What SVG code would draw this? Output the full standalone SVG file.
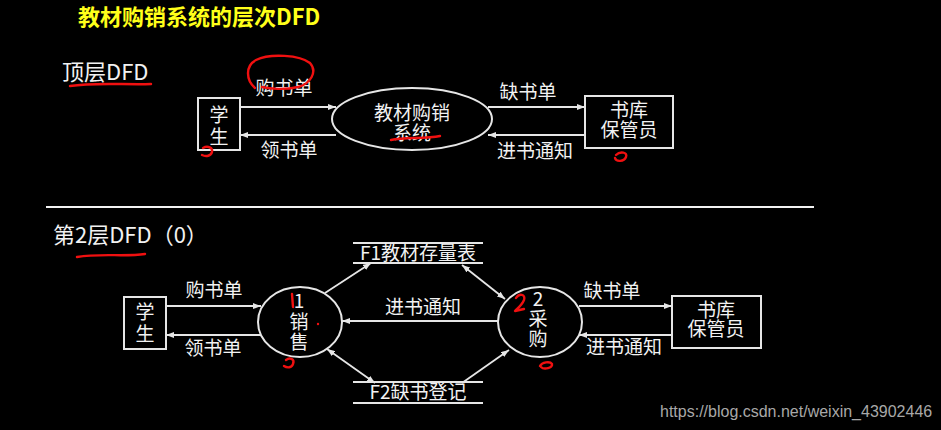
<svg xmlns="http://www.w3.org/2000/svg" width="941" height="430" viewBox="0 0 941 430">
<style>
.t{font-family:"Noto Sans CJK SC","Noto Sans",sans-serif;fill:#f2f2f2;font-size:19px;text-anchor:middle}
.h{font-family:"Noto Sans CJK SC","Noto Sans",sans-serif;fill:#f2f2f2;font-size:22px}
.s{fill:none;stroke:#e6e6e6;stroke-width:2}
.c{fill:none;stroke:#e6e6e6;stroke-width:1.8}
.r{fill:none;stroke:#f01010;stroke-width:2.4;stroke-linecap:round;stroke-linejoin:round}
</style>
<defs>
<marker id="a" viewBox="0 0 8 6" refX="8" refY="3" markerWidth="8" markerHeight="6" markerUnits="userSpaceOnUse" orient="auto-start-reverse">
<path d="M0,0 L8,3 L0,6 z" fill="#e6e6e6"/>
</marker>
</defs>
<rect width="941" height="430" fill="#000"/>
<text x="78" y="25" style="font-family:'Noto Sans CJK SC','Noto Sans',sans-serif;font-size:22px;font-weight:bold;fill:#ffff1a">教材购销系统的层次DFD</text>
<text class="h" x="62" y="80">顶层DFD</text>
<line x1="46" y1="207" x2="814" y2="207" stroke="#f2f2f2" stroke-width="2"/>
<text class="h" x="53" y="243">第2层DFD（0）</text>

<g id="top-student"><rect class="s" x="198" y="98" width="42" height="52"/><text class="t" x="219" y="122">学</text><text class="t" x="219" y="144">生</text></g>
<g id="top-system"><ellipse class="s" cx="412" cy="119" rx="80" ry="31"/><text class="t" x="412" y="120">教材购销</text><text class="t" x="412" y="140">系统</text></g>
<g id="top-keeper"><rect class="s" x="585" y="96" width="88" height="52"/><text class="t" x="629" y="117">书库</text><text class="t" x="629" y="137">保管员</text></g>

<g id="bot-student"><rect class="s" x="124" y="297" width="42" height="52"/><text class="t" x="145" y="319">学</text><text class="t" x="145" y="341">生</text></g>
<g id="p1"><ellipse class="s" cx="300" cy="322" rx="42" ry="35"/><text class="t" x="299" y="308">1</text><text class="t" x="299" y="329">销</text><text class="t" x="299" y="349">售</text></g>
<g id="p2"><ellipse class="s" cx="540" cy="322" rx="42" ry="35"/><text class="t" x="538" y="306">2</text><text class="t" x="538" y="326">采</text><text class="t" x="538" y="346">购</text></g>
<g id="bot-keeper"><rect class="s" x="672" y="296" width="89" height="52"/><text class="t" x="716" y="317">书库</text><text class="t" x="716" y="336">保管员</text></g>
<g id="f1"><line class="s" x1="353" y1="243" x2="483" y2="243"/><line class="s" x1="353" y1="263" x2="483" y2="263"/><text class="t" x="418" y="260">F1教材存量表</text></g>
<g id="f2"><line class="s" x1="353" y1="382" x2="483" y2="382"/><line class="s" x1="353" y1="403" x2="483" y2="403"/><text class="t" x="418" y="399">F2缺书登记</text></g>

<g id="connectors">
<line class="c" x1="240" y1="107" x2="336" y2="107" marker-end="url(#a)"/>
<line class="c" x1="336" y1="135" x2="240" y2="135" marker-end="url(#a)"/>
<line class="c" x1="488" y1="107" x2="585" y2="107" marker-end="url(#a)"/>
<line class="c" x1="585" y1="135" x2="488" y2="135" marker-end="url(#a)"/>
<text class="t" x="284" y="95">购书单</text>
<text class="t" x="289" y="157">领书单</text>
<text class="t" x="528" y="99">缺书单</text>
<text class="t" x="535" y="158">进书通知</text>

<line class="c" x1="166" y1="306" x2="261" y2="306" marker-end="url(#a)"/>
<line class="c" x1="261" y1="335" x2="166" y2="335" marker-end="url(#a)"/>
<line class="c" x1="579" y1="306" x2="672" y2="306" marker-end="url(#a)"/>
<line class="c" x1="672" y1="335" x2="579" y2="335" marker-end="url(#a)"/>
<line class="c" x1="498" y1="321" x2="342" y2="321" marker-end="url(#a)"/>
<line class="c" x1="325" y1="293" x2="371" y2="263" marker-end="url(#a)"/>
<line class="c" x1="462" y1="265" x2="505" y2="299" marker-start="url(#a)" marker-end="url(#a)"/>
<line class="c" x1="327" y1="349" x2="375" y2="383" marker-start="url(#a)" marker-end="url(#a)"/>
<line class="c" x1="462" y1="383" x2="509" y2="350" marker-end="url(#a)"/>
<text class="t" x="214" y="297">购书单</text>
<text class="t" x="213" y="355">领书单</text>
<text class="t" x="423" y="314">进书通知</text>
<text class="t" x="612" y="298">缺书单</text>
<text class="t" x="624" y="354">进书通知</text>
</g>

<g id="annotations">
<path class="r" d="M70,86 C95,82 125,85 151,84"/>
<path class="r" d="M255,88 C246,80 245,66 256,60 C270,53 300,55 310,63 C318,72 310,84 298,87 C285,90 270,89 262,87"/>
<path class="r" d="M203,148 C208,145 213,148 212,152 C211,156 206,157 202,155"/>
<path class="r" d="M391,140 C405,137 425,139 440,136"/>
<path class="r" d="M616,155 C620,151 628,152 626,157 C624,162 616,162 615,158"/>
<path class="r" d="M77,257 C100,253 125,257 145,254"/>
<path class="r" d="M292,294 L293,307"/>
<circle cx="318" cy="324" r="1.2" fill="#f01010"/>
<path class="r" d="M286,360 C290,357 295,359 293,364 C292,368 287,368 284,366"/>
<path class="r" d="M516,298 C519,293 526,294 524,300 C522,305 518,308 515,311 L524,309"/>
<path class="r" d="M540,366 C542,362 550,361 552,364 C553,368 544,370 541,367"/>
</g>

<text x="660" y="417" style="font-family:'Liberation Sans',Arial,sans-serif;font-size:16px;fill:#a8a8a8">https://blog.csdn.net/weixin_43902446</text>
</svg>
